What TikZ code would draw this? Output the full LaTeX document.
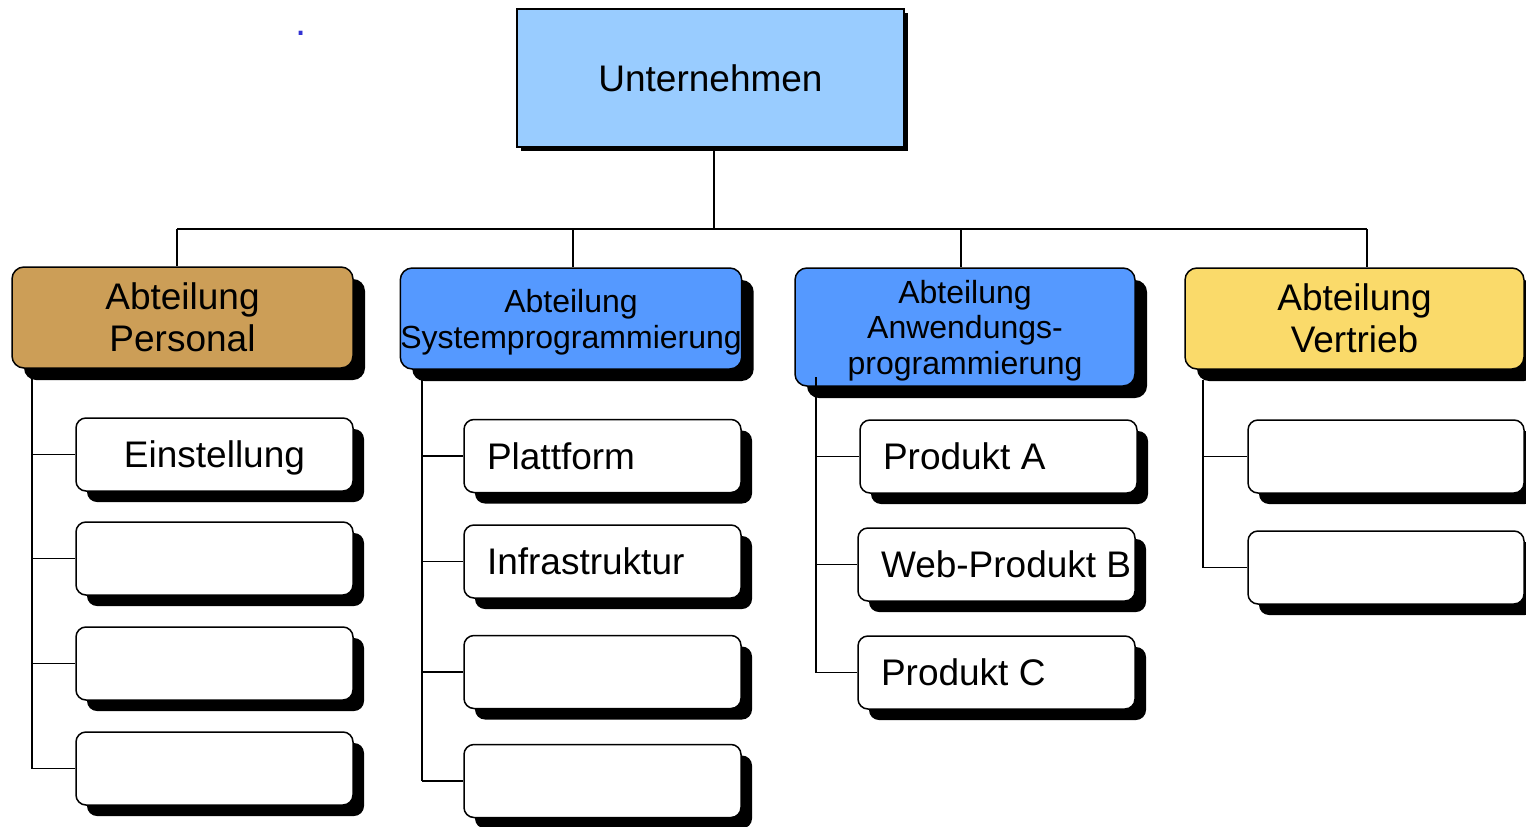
\documentclass[tikz,border=0pt]{standalone}
\usepackage{fontspec}
\setmainfont{Liberation Sans}
\usetikzlibrary{shadows}
\definecolor{topblue}{RGB}{153,204,255}
\definecolor{tanfill}{RGB}{204,158,87}
\definecolor{deptblue}{RGB}{85,153,255}
\definecolor{yelfill}{RGB}{250,218,106}
\definecolor{dotblue}{RGB}{50,50,210}
\newcommand\leftlabel[1]{\makebox[231pt][l]{#1}}
\begin{document}
\begin{tikzpicture}[x=1pt,y=-1pt,
  box/.style={draw=black, line width=1.5pt, rectangle, inner sep=0pt, align=center},
  bigfont/.style={font=\fontsize{37pt}{42pt}\selectfont},
  midfont/.style={font=\fontsize{32pt}{36pt}\selectfont},
  dept/.style={box, rounded corners=12pt, minimum width=340pt, minimum height=101pt, text depth=0pt,
    drop shadow={fill=black, opacity=1, shadow xshift=12pt, shadow yshift=-12pt}},
  child/.style={box, fill=white, rounded corners=10pt, minimum width=277pt, minimum height=73pt, bigfont, text depth=0pt,
    drop shadow={fill=black, opacity=1, shadow xshift=11pt, shadow yshift=-11pt}},
  conn/.style={draw=black, line width=1.9pt}]
\useasboundingbox (0,0) rectangle (1526,827);

\node[text=dotblue, inner sep=0pt, font=\fontsize{40pt}{40pt}\selectfont] (dot) at (301,33) {.};

\node[box, fill=topblue, minimum width=387pt, minimum height=138pt, bigfont,
  drop shadow={fill=black, opacity=1, shadow xshift=3.5pt, shadow yshift=-4pt}] (top) at (710.5,78) {Unternehmen};

\node[dept, fill=tanfill, minimum width=341pt, bigfont] (pers) at (182.5,317.5) {Abteilung\\Personal};
\node[dept, fill=deptblue, midfont] (sys) at (571,318.5) {Abteilung\\Systemprogrammierung};
\node[dept, fill=deptblue, minimum height=118pt, font=\fontsize{32pt}{35.5pt}\selectfont] (anw) at (965,327) {Abteilung\\Anwendungs-\\programmierung};
\node[dept, fill=yelfill, minimum width=339pt, bigfont] (ver) at (1354.5,318.5) {Abteilung\\Vertrieb};

% column 1
\node[child] (p1) at (214.5,454.5) {Einstellung};
\node[child] (p2) at (214.5,558.5) {};
\node[child] (p3) at (214.5,663.5) {};
\node[child] (p4) at (214.5,768.5) {};
% column 2
\node[child] (s1) at (602.5,456) {\leftlabel{Plattform}};
\node[child] (s2) at (602.5,561.5) {\leftlabel{Infrastruktur}};
\node[child] (s3) at (602.5,672) {};
\node[child] (s4) at (602.5,781) {};
% column 3
\node[child] (a1) at (998.5,456.5) {\leftlabel{Produkt A}};
\node[child] (a2) at (996.5,564.5) {\leftlabel{Web-Produkt B}};
\node[child] (a3) at (996.5,672.5) {\leftlabel{Produkt C}};
% column 4
\node[child, minimum width=276pt] (v1) at (1386,456.5) {};
\node[child, minimum width=276pt] (v2) at (1386,567.5) {};

% top connectors
\coordinate (t0) at (714,229);
\coordinate (b1) at (177,229);
\coordinate (b2) at (573,229);
\coordinate (b3) at (961,229);
\coordinate (b4) at (1367,229);
\draw[conn] (t0 |- top.south) -- (t0);
\draw[conn] (b1) -- (b4);
\draw[conn] (b1) -- (b1 |- pers.north);
\draw[conn] (b2) -- (b2 |- sys.north);
\draw[conn] (b3) -- (b3 |- anw.north);
\draw[conn] (b4) -- (b4 |- ver.north);

% spines
\coordinate (sp1) at (32,378);
\coordinate (sp2) at (422,380);
\coordinate (sp3) at (816,377);
\coordinate (sp4) at (1203,380);
\draw[conn] (sp1) -- (sp1 |- p4.west);
\foreach \i in {1,2,3,4} \draw[conn] (sp1 |- p\i.west) -- (p\i.west);
\draw[conn] (sp2) -- (sp2 |- s4.west);
\foreach \i in {1,2,3,4} \draw[conn] (sp2 |- s\i.west) -- (s\i.west);
\draw[conn] (sp3) -- (sp3 |- a3.west);
\foreach \i in {1,2,3} \draw[conn] (sp3 |- a\i.west) -- (a\i.west);
\draw[conn] (sp4) -- (sp4 |- v2.west);
\foreach \i in {1,2} \draw[conn] (sp4 |- v\i.west) -- (v\i.west);
\end{tikzpicture}
\end{document}
